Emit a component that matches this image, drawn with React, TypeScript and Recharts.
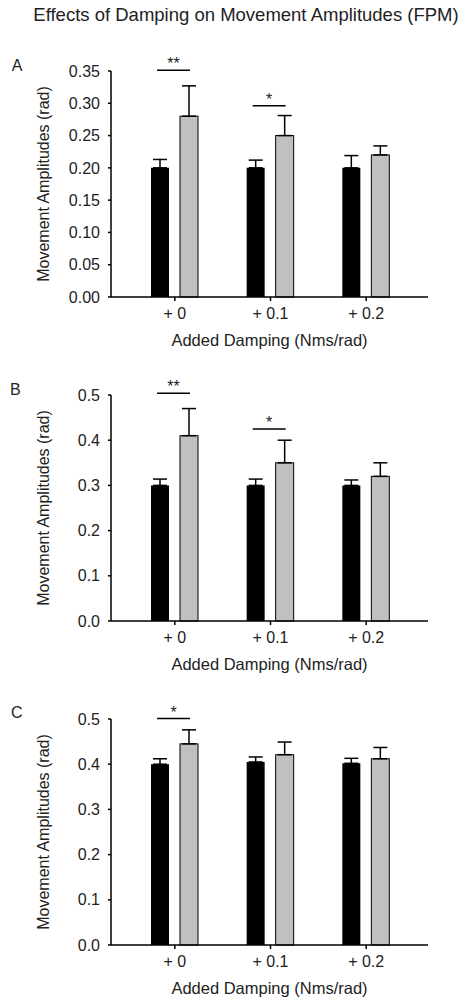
import React from 'react';
import { BarChart, Bar, XAxis, YAxis, ErrorBar } from 'recharts';

const FONT = '"Liberation Sans", Arial, sans-serif';

const categories = ['+ 0', '+ 0.1', '+ 0.2'];

// Panel A
const blackA = [0.2, 0.2, 0.2];
const blackErrA = [0.013, 0.012, 0.019];
const grayA = [0.28, 0.25, 0.22];
const grayErrA = [0.047, 0.031, 0.014];
const sigA = ['**', '*', ''];
const sigAtA = [0.351, 0.296, 0];
const ticksA = [0, 0.05, 0.1, 0.15, 0.2, 0.25, 0.3, 0.35];

// Panel B
const blackB = [0.3, 0.3, 0.3];
const blackErrB = [0.014, 0.014, 0.012];
const grayB = [0.41, 0.35, 0.32];
const grayErrB = [0.06, 0.05, 0.03];
const sigB = ['**', '*', ''];
const sigAtB = [0.504, 0.425, 0];
const ticksB = [0, 0.1, 0.2, 0.3, 0.4, 0.5];

// Panel C
const blackC = [0.4, 0.405, 0.402];
const blackErrC = [0.012, 0.011, 0.011];
const grayC = [0.445, 0.421, 0.412];
const grayErrC = [0.031, 0.028, 0.025];
const sigC = ['*', '', ''];
const sigAtC = [0.501, 0, 0];
const ticksC = [0, 0.1, 0.2, 0.3, 0.4, 0.5];

const buildRows = (black, blackErr, gray, grayErr, sig, sigAt) =>
  categories.map((cat, i) => ({
    cat,
    black: black[i],
    blackErr: [0, blackErr[i]],
    gray: gray[i],
    grayErr: [0, grayErr[i]],
    sig: sig[i],
    sigAt: sigAt[i],
  }));

// gray bar plus the significance bracket drawn above the pair
const GrayBar = (props: any) => {
  const { x, y, width, height, payload } = props;
  const perUnit = height / payload.gray;
  const lineY = y + height - payload.sigAt * perUnit;
  return (
    <g>
      <rect x={x} y={y} width={width} height={height} fill="#c0c0c0" stroke="#000" strokeWidth={1} />
      {payload.sig ? (
        <g>
          <line x1={x - 23} x2={x + 10} y1={lineY} y2={lineY} stroke="#000" strokeWidth={1.5} />
          <text x={x - 6.5} y={lineY - 1} textAnchor="middle" fontSize={16} fontFamily={FONT} fill="#222">
            {payload.sig}
          </text>
        </g>
      ) : null}
    </g>
  );
};

const Panel = ({ top, rows, ticks, digits }) => (
  <div style={{ position: 'absolute', left: 0, top }}>
    <BarChart
      width={473}
      height={320}
      data={rows}
      margin={{ top: 31, right: 45, bottom: 8, left: 0 }}
      barSize={18}
      barGap={11}
    >
      <XAxis
        dataKey="cat"
        height={55}
        padding={{ left: 16, right: 14 }}
        axisLine={{ stroke: '#000', strokeWidth: 1.5 }}
        tickLine={{ stroke: '#000', strokeWidth: 1.5 }}
        tickSize={4}
        tickMargin={7}
        tick={{ fill: '#222', fontSize: 16, fontFamily: FONT }}
        label={{
          value: 'Added Damping (Nms/rad)',
          position: 'insideBottom',
          offset: 6,
          style: { fill: '#222', fontSize: 16.5, fontFamily: FONT },
        }}
      />
      <YAxis
        width={111}
        domain={[ticks[0], ticks[ticks.length - 1]]}
        ticks={ticks}
        interval={0}
        tickFormatter={(v) => v.toFixed(digits)}
        axisLine={{ stroke: '#000', strokeWidth: 1.5 }}
        tickLine={{ stroke: '#000', strokeWidth: 1.5 }}
        tickSize={3}
        tickMargin={8}
        tick={{ fill: '#222', fontSize: 16, fontFamily: FONT }}
        label={{
          value: 'Movement Amplitudes (rad)',
          angle: -90,
          position: 'insideLeft',
          offset: 43,
          style: { textAnchor: 'middle', fill: '#222', fontSize: 16, fontFamily: FONT },
        }}
      />
      <Bar dataKey="black" fill="#000" isAnimationActive={false}>
        <ErrorBar dataKey="blackErr" width={7} stroke="#000" strokeWidth={1.5} />
      </Bar>
      <Bar dataKey="gray" shape={GrayBar} isAnimationActive={false}>
        <ErrorBar dataKey="grayErr" width={7} stroke="#000" strokeWidth={1.5} />
      </Bar>
    </BarChart>
  </div>
);

export default function App() {
  return (
    <div style={{ position: 'absolute', left: 0, top: 0, width: 473, height: 1000, background: '#fff' }}>
      <Panel top={40} rows={buildRows(blackA, blackErrA, grayA, grayErrA, sigA, sigAtA)} ticks={ticksA} digits={2} />
      <Panel top={364} rows={buildRows(blackB, blackErrB, grayB, grayErrB, sigB, sigAtB)} ticks={ticksB} digits={1} />
      <Panel top={688} rows={buildRows(blackC, blackErrC, grayC, grayErrC, sigC, sigAtC)} ticks={ticksC} digits={1} />
      <svg
        width={473}
        height={1000}
        style={{ position: 'absolute', left: 0, top: 0, pointerEvents: 'none' }}
        fontFamily={FONT}
        fill="#222"
      >
        <text x={246} y={20.7} textAnchor="middle" fontSize={18.5}>
          Effects of Damping on Movement Amplitudes (FPM)
        </text>
        <text x={11.7} y={70.7} fontSize={16}>A</text>
        <text x={10} y={395} fontSize={16}>B</text>
        <text x={11} y={718} fontSize={16}>C</text>
      </svg>
    </div>
  );
}
